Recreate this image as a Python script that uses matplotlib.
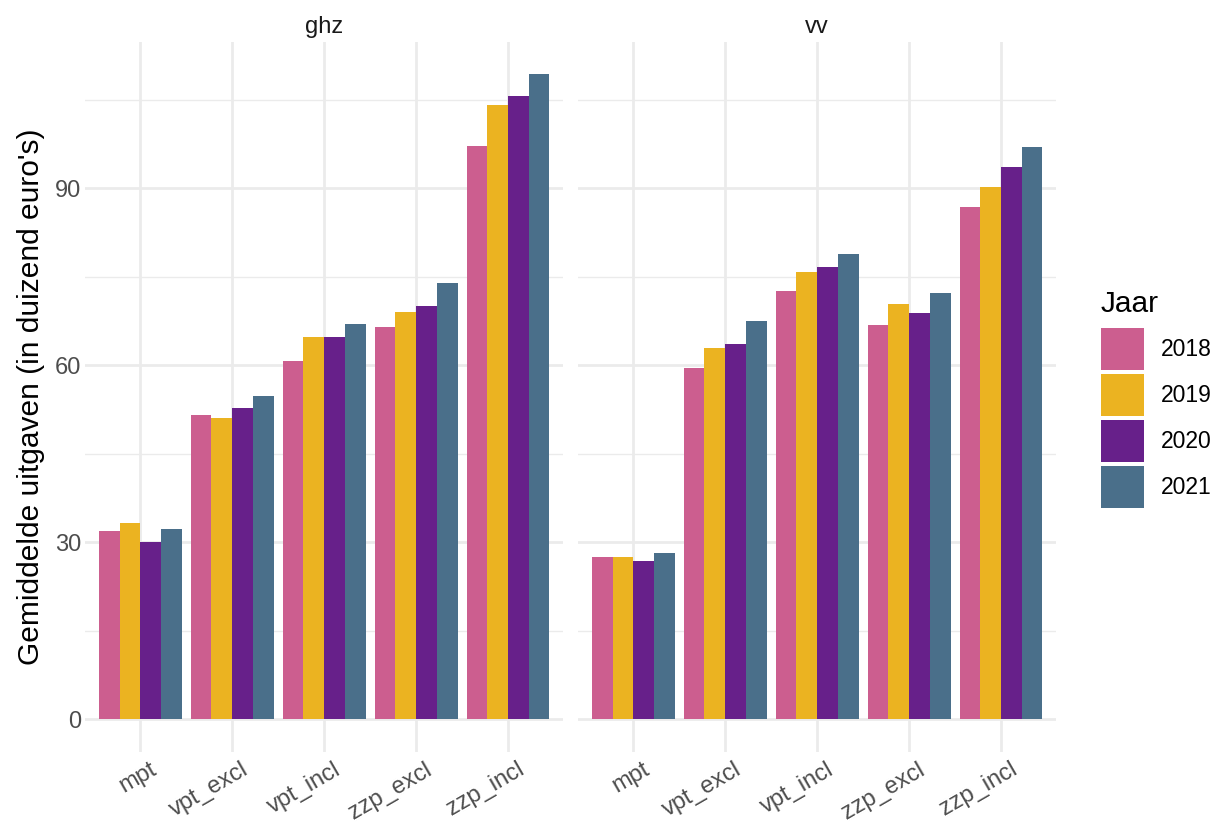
import matplotlib
matplotlib.use('Agg')
import matplotlib.pyplot as plt
from matplotlib.patches import Patch
from matplotlib.transforms import ScaledTranslation
import numpy as np

plt.rcParams['font.family'] = ['Liberation Sans', 'DejaVu Sans']

# data
categories = ['mpt', 'vpt_excl', 'vpt_incl', 'zzp_excl', 'zzp_incl']
years = ['2018', '2019', '2020', '2021']
colors = ['#CC5E8F', '#EBB321', '#67208A', '#4A6F8A']

ghz = {
    '2018': [31.9, 51.5, 60.7, 66.5, 97.2],
    '2019': [33.3, 51.1, 64.8, 69.0, 104.1],
    '2020': [30.0, 52.8, 64.8, 70.0, 105.6],
    '2021': [32.2, 54.8, 67.0, 73.9, 109.4],
}
vv = {
    '2018': [27.5, 59.5, 72.6, 66.8, 86.8],
    '2019': [27.5, 62.9, 75.8, 70.4, 90.2],
    '2020': [26.8, 63.6, 76.7, 68.9, 93.6],
    '2021': [28.2, 67.5, 78.9, 72.3, 97.0],
}
panels = [('ghz', ghz), ('vv', vv)]

fig = plt.figure(figsize=(12.2, 8.31), dpi=100)
ax_w = 0.392
ax_b = 0.0955
ax_h = 0.8545
axes = [fig.add_axes([0.0697, ax_b, ax_w, ax_h]),
        fig.add_axes([0.4738, ax_b, ax_w, ax_h])]

x = np.arange(len(categories))
bar_w = 0.225
ymax = max(max(max(v) for v in d.values()) for _, d in panels)
# ggplot places rotated labels a little right of the tick
shift = ScaledTranslation(9 / 100, 0, fig.dpi_scale_trans)

for ax, (name, data) in zip(axes, panels):
    for i, yr in enumerate(years):
        ax.bar(x + (i - 1.5) * bar_w, data[yr], width=bar_w, color=colors[i], zorder=3)
    ax.set_xlim(-0.6, len(categories) - 0.4)
    ax.set_ylim(-ymax * 0.05, ymax * 1.05)
    ax.set_yticks([0, 30, 60, 90])
    ax.set_yticks([15, 45, 75, 105], minor=True)
    ax.set_xticks(x)
    ax.grid(which='major', color='#EBEBEB', linewidth=2.0, zorder=0)
    ax.grid(which='minor', axis='y', color='#EBEBEB', linewidth=1.0, zorder=0)
    ax.tick_params(which='both', length=0, labelsize=17, colors='#4D4D4D')
    ax.tick_params(axis='y', pad=3)
    ax.tick_params(axis='x', pad=5)
    ax.set_xticklabels(categories, rotation=30, ha='right', va='top', rotation_mode='anchor')
    for lab in ax.get_xticklabels():
        lab.set_transform(lab.get_transform() + shift)
    for s in ax.spines.values():
        s.set_visible(False)
    ax.set_title(name, fontsize=17, color='#1A1A1A', pad=6)

axes[1].tick_params(axis='y', labelleft=False)
axes[0].set_ylabel("Gemiddelde uitgaven (in duizend euro's)", fontsize=21.5, labelpad=7)

handles = [Patch(facecolor=c, edgecolor='none') for c in colors]
leg = fig.legend(handles, years, loc='upper left', bbox_to_anchor=(0.9025, 0.651),
                 frameon=False, fontsize=16.5, title='Jaar', title_fontsize=21.5,
                 handlelength=1.88, handleheight=2.445, labelspacing=0.17,
                 handletextpad=0.74, borderpad=0, borderaxespad=0)
leg._legend_box.align = 'left'
leg._legend_box.sep = 7.5

fig.savefig('out.png', dpi=100)
